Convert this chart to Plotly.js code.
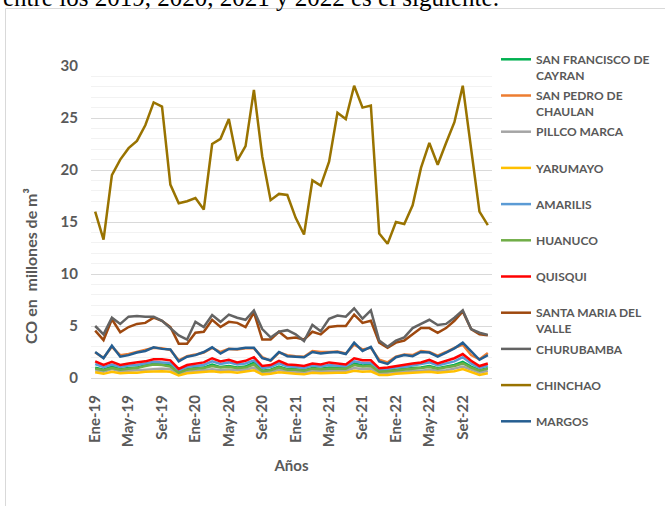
<!DOCTYPE html>
<html>
<head>
<meta charset="utf-8">
<script src="https://cdn.plot.ly/plotly-3.0.1.min.js"></script>
<style>
html,body{margin:0;padding:0;background:#fff;overflow:hidden;}
#chart{width:665px;height:506px;}
</style>
</head>
<body>
<div id="chart"></div>
<script>
const months = ["Ene-19","Feb-19","Mar-19","Abr-19","May-19","Jun-19","Jul-19","Ago-19","Set-19","Oct-19","Nov-19","Dic-19",
"Ene-20","Feb-20","Mar-20","Abr-20","May-20","Jun-20","Jul-20","Ago-20","Set-20","Oct-20","Nov-20","Dic-20",
"Ene-21","Feb-21","Mar-21","Abr-21","May-21","Jun-21","Jul-21","Ago-21","Set-21","Oct-21","Nov-21","Dic-21",
"Ene-22","Feb-22","Mar-22","Abr-22","May-22","Jun-22","Jul-22","Ago-22","Set-22","Oct-22","Nov-22","Dic-22"];
const tickLabels = ["Ene-19","May-19","Set-19","Ene-20","May-20","Set-20","Ene-21","May-21","Set-21","Ene-22","May-22","Set-22"];

const sanFrancisco = [1.0,0.8,1.1,0.85,0.95,1.0,1.25,1.35,1.3,1.2,0.55,0.85,0.95,1.0,1.3,1.05,1.15,1.0,1.1,1.5,0.7,0.8,1.1,0.85,0.85,0.75,0.95,0.9,1.0,1.0,0.95,1.4,1.2,1.3,0.65,0.7,0.8,0.85,0.95,1.0,1.15,0.95,1.1,1.25,1.55,1.1,0.75,0.95];
const sanPedro = [2.45,1.95,3.0,2.2,2.3,2.5,2.65,2.9,2.85,2.7,1.7,2.1,2.25,2.45,2.9,2.5,2.8,2.75,2.85,2.85,2.0,1.65,2.45,2.2,2.1,2.05,2.6,2.5,2.5,2.55,2.35,3.2,2.75,2.9,1.75,1.5,2.05,2.25,2.2,2.6,2.5,2.15,2.5,2.9,3.2,2.2,1.8,2.4];
const pillcoMarca = [0.75,0.6,0.85,0.65,0.7,0.75,0.85,0.9,0.9,0.85,0.4,0.6,0.7,0.75,0.85,0.75,0.8,0.75,0.8,1.0,0.5,0.55,0.8,0.6,0.6,0.55,0.7,0.65,0.7,0.7,0.7,0.95,0.85,0.9,0.45,0.5,0.6,0.6,0.7,0.7,0.8,0.7,0.75,0.9,1.1,0.8,0.5,0.7];
const yarumayo = [0.55,0.4,0.6,0.45,0.5,0.5,0.6,0.65,0.65,0.6,0.25,0.45,0.5,0.55,0.65,0.55,0.6,0.5,0.6,0.75,0.35,0.4,0.55,0.45,0.4,0.35,0.5,0.45,0.5,0.5,0.5,0.7,0.6,0.65,0.3,0.3,0.4,0.45,0.5,0.5,0.6,0.5,0.55,0.65,0.85,0.55,0.3,0.45];
const amarilis = [1.35,1.05,1.3,1.05,1.2,1.25,1.4,1.55,1.5,1.45,0.7,1.05,1.15,1.25,1.6,1.35,1.5,1.3,1.4,1.7,0.95,1.05,1.4,1.1,1.05,0.95,1.2,1.1,1.25,1.2,1.1,1.6,1.45,1.45,0.8,0.85,1.0,1.05,1.2,1.3,1.5,1.2,1.4,1.6,2.0,1.4,0.95,1.2];
const huanuco = [0.9,0.75,0.95,0.8,0.9,0.95,1.15,1.3,1.25,1.1,0.5,0.8,0.9,0.95,1.15,1.0,1.05,0.95,1.0,1.3,0.65,0.75,1.0,0.8,0.8,0.7,0.9,0.85,0.9,0.9,0.9,1.25,1.1,1.15,0.6,0.65,0.75,0.8,0.9,0.95,1.05,0.9,1.0,1.15,1.4,1.0,0.7,0.9];
const quisqui = [1.6,1.25,1.55,1.25,1.4,1.5,1.6,1.8,1.8,1.7,0.87,1.25,1.4,1.5,1.9,1.6,1.75,1.5,1.65,2.0,1.15,1.25,1.65,1.3,1.25,1.15,1.4,1.3,1.5,1.4,1.3,1.9,1.7,1.7,0.93,1.0,1.15,1.25,1.4,1.5,1.75,1.4,1.65,1.9,2.3,1.65,1.15,1.4];
const santaMaria = [4.55,3.65,5.65,4.4,4.9,5.2,5.3,5.8,5.5,4.9,3.3,3.3,4.35,4.45,5.6,4.9,5.4,5.3,4.9,6.3,3.7,3.7,4.45,3.8,3.9,3.7,4.45,4.2,4.9,5.0,5.0,6.1,5.3,5.5,3.4,2.9,3.4,3.6,4.2,4.8,4.8,4.35,4.8,5.5,6.4,4.7,4.2,4.1];
const churubamba = [5.0,4.2,5.8,5.2,5.9,5.95,5.9,5.9,5.5,4.8,4.1,3.7,5.4,4.9,6.05,5.4,6.1,5.8,5.6,6.5,4.7,3.9,4.45,4.6,4.2,3.55,5.1,4.5,5.7,6.0,5.9,6.7,5.7,6.5,3.6,3.0,3.6,3.9,4.8,5.2,5.6,5.1,5.2,5.8,6.5,4.7,4.35,4.15];
const chinchao = [16.0,13.3,19.5,21.0,22.1,22.8,24.3,26.5,26.1,18.6,16.8,17.0,17.3,16.2,22.5,23.0,24.9,20.9,22.3,27.7,21.3,17.1,17.7,17.6,15.4,13.8,19.0,18.5,20.8,25.5,24.9,28.1,26.0,26.2,13.9,12.9,15.0,14.8,16.6,20.2,22.6,20.5,22.6,24.6,28.1,22.2,16.0,14.7];
const margos = [2.5,1.9,3.1,2.05,2.2,2.45,2.6,2.95,2.8,2.75,1.6,2.05,2.2,2.5,2.95,2.35,2.8,2.8,2.9,2.9,1.9,1.7,2.5,2.1,2.05,2.0,2.5,2.35,2.45,2.5,2.3,3.4,2.6,3.0,1.6,1.35,2.0,2.2,2.1,2.5,2.45,2.05,2.45,2.85,3.4,2.6,1.75,2.2];

const seriesNames = ["SAN FRANCISCO DE<br>CAYRAN","SAN PEDRO DE<br>CHAULAN","PILLCO MARCA<br> ","YARUMAYO<br> ","AMARILIS<br> ","HUANUCO<br> ","QUISQUI<br> ","SANTA MARIA DEL<br>VALLE","CHURUBAMBA<br> ","CHINCHAO<br> ","MARGOS<br> "];
const seriesValues = [sanFrancisco,sanPedro,pillcoMarca,yarumayo,amarilis,huanuco,quisqui,santaMaria,churubamba,chinchao,margos];
const seriesColors = ["#00B050","#ED7D31","#A5A5A5","#FFC000","#5B9BD5","#70AD47","#FF0000","#9E480E","#636363","#997300","#255E91"];

const traces = seriesNames.map((n,i)=>({
  type:'scatter', mode:'lines', name:n, x:months, y:seriesValues[i],
  line:{color:seriesColors[i], width:2.5}, legendgroup:'g'+i
}));

const F = "Lato, 'Open Sans', sans-serif";
const gray = "#595959";
const L=91, T=66, W=401, H=312;
const px2x = p => (p-L)/W;
const py2y = p => 1 - (p-T)/H;

const layout = {
  width:665, height:506,
  margin:{l:L, r:665-L-W, t:T, b:506-T-H, autoexpand:false},
  paper_bgcolor:'#fff', plot_bgcolor:'#fff',
  showlegend:true,
  legend:{x:px2x(496), xanchor:'left', y:py2y(45), yanchor:'top', maxheight:480,
    font:{family:F, size:12, color:gray, weight:'bold'},
    valign:'top', traceorder:'grouped', tracegroupgap:2, bgcolor:'rgba(0,0,0,0)'},
  xaxis:{type:'category', range:[-0.5,47.5], tickvals:tickLabels, ticktext:tickLabels,
    tickangle:-90, tickfont:{family:F, size:15, color:gray, weight:'bold'},
    showgrid:false, zeroline:false, showline:true, linecolor:'#d9d9d9', ticks:'', ticklabelstandoff:10,
    title:{text:'Años', font:{family:F, size:15, color:gray, weight:'bold'}, standoff:14}},
  yaxis:{range:[0,30], dtick:5, tickfont:{family:F, size:15, color:gray, weight:'bold'},
    gridcolor:'#d9d9d9', zeroline:false, showline:false, ticks:'', ticklabelstandoff:12,
    minor:{dtick:1, showgrid:true, gridcolor:'#f2f2f2'}},
  annotations:[
    {text:'CO en  millones de m³', xref:'paper', yref:'paper', x:px2x(30), y:py2y(266),
     xanchor:'center', yanchor:'middle', textangle:-90, showarrow:false,
     font:{family:F, size:16, color:gray, weight:'bold'}},
    {text:'entre los 2019, 2020, 2021 y 2022 es el siguiente:', xref:'paper', yref:'paper',
     x:px2x(1), y:py2y(13), xanchor:'left', yanchor:'bottom', showarrow:false,
     font:{family:"'Liberation Serif', 'Times New Roman', serif", size:25, color:'#000'}}
  ],
  shapes:[
    {type:'rect', xref:'paper', yref:'paper', x0:px2x(5.5), x1:px2x(700), y0:py2y(8.5), y1:py2y(560),
     line:{color:'#d9d9d9', width:1}, fillcolor:'rgba(0,0,0,0)', layer:'below'}
  ]
};

Plotly.newPlot('chart', traces, layout, {displayModeBar:false, staticPlot:true});
</script>
</body>
</html>
